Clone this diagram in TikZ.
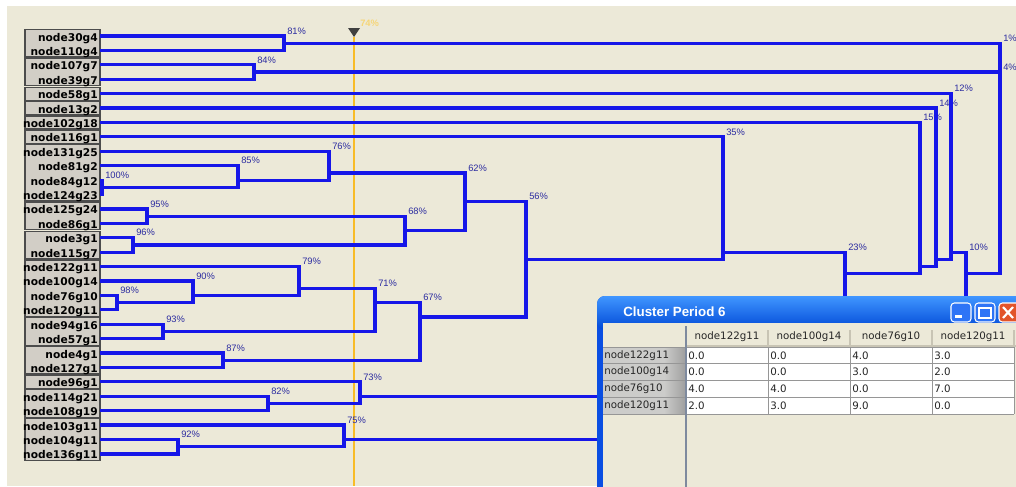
\documentclass[tikz,border=0pt]{standalone}
\usepackage{fontspec}
\setmainfont{DejaVu Sans}
\newfontfamily\pctfont{Liberation Sans}
\usetikzlibrary{calc}

\definecolor{xpbeige}{RGB}{236,233,216}
\definecolor{boxgrey}{RGB}{210,206,198}
\definecolor{treeblue}{RGB}{22,22,232}
\definecolor{pctblue}{RGB}{44,44,160}
\definecolor{cutyellow}{RGB}{248,188,40}
\definecolor{cutlabel}{RGB}{246,214,120}
\definecolor{xpframe}{RGB}{10,78,226}
\definecolor{xptop}{RGB}{64,150,255}
\definecolor{xpmid}{RGB}{0,86,236}
\definecolor{xpbot}{RGB}{0,72,214}
\definecolor{xpbtn}{RGB}{46,116,246}
\definecolor{xpclose}{RGB}{226,84,42}
\definecolor{gridgrey}{RGB}{150,150,150}
\definecolor{rowhead}{RGB}{204,204,202}
\definecolor{hdrline}{RGB}{200,196,180}
\definecolor{sepline}{RGB}{126,138,158}

\tikzset{
  leaf/.style={anchor=east,inner xsep=1.5pt,inner ysep=0pt,text height=7.5pt,text depth=0pt,
    font=\bfseries\fontsize{8}{9}\selectfont},
  grp/.style={draw=black!70,line width=0.9pt,fill=boxgrey},
  link/.style={treeblue,line width=2.4pt},
  pct/.style={anchor=west,inner sep=0pt,text=pctblue,font=\pctfont\fontsize{7}{8}\selectfont},
  cutlbl/.style={anchor=west,inner sep=0pt,text=cutlabel,font=\pctfont\bfseries\fontsize{7}{8}\selectfont},
  cell/.style={anchor=west,inner sep=0pt,text=black!85,font=\fontsize{7.7}{9}\selectfont},
  xpbutton/.style={draw=white,line width=0.8pt,rounded corners=2.5pt},
}

% y of a leaf row, rows are 14.41 apart
\newcommand{\rowy}[1]{36+14.41*#1}

% \joinup{name}{upper}{lower}{x}{mean row}{level}
\newcommand{\joinup}[6]{%
  \coordinate (#1) at (#4,{\rowy{#5}});
  \draw[link] (#2) -| (#1 |- #3) -- (#3);
  \node[pct] (#1l) at ($(#1 |- #2)+(3,-5)$) {#6};
}

\begin{document}
\begin{tikzpicture}[x=0.75pt,y=-0.75pt]
  \useasboundingbox (0,0) rectangle (1016,486);
  \fill[white] (0,0) rectangle (1016,486);
  \fill[xpbeige] (7,6) rectangle (1016,486);

  % cut level
  \coordinate (cut) at (354,37);
  \coordinate (cutend) at (354,486);
  \draw[cutyellow,line width=0.8pt] (cut) -- (cutend);
  \fill[black!75] (348,28) -- (360,28) -- (cut) -- cycle;
  \node[cutlbl] (cutval) at (360,23) {74\%};

  % boxes round the leaf groups
  \foreach \a/\b in {0/1,2/3,4/4,5/5,6/6,7/7,8/11,12/13,14/15,16/19,20/21,22/23,24/24,25/26,27/29}
    \draw[grp] (25,{\rowy{\a}-6.5}) rectangle (100,{\rowy{\b}+6.5});

  \foreach \nm [count=\i from 0] in {node30g4,node110g4,node107g7,node39g7,node58g1,node13g2,
      node102g18,node116g1,node131g25,node81g2,node84g12,node124g23,node125g24,node86g1,
      node3g1,node115g7,node122g11,node100g14,node76g10,node120g11,node94g16,node57g1,
      node4g1,node127g1,node96g1,node114g21,node108g19,node103g11,node104g11,node136g11}
    \node[leaf] (\nm) at (100,{\rowy{\i}}) {\nm};

  % merges
  \joinup{m81}{node30g4.east}{node110g4.east}{284}{0.5}{81\%}
  \joinup{m84}{node107g7.east}{node39g7.east}{254}{2.5}{84\%}
  \joinup{m100}{node84g12.east}{node124g23.east}{102}{10.5}{100\%}
  \joinup{m85}{node81g2.east}{m100}{238}{10}{85\%}
  \joinup{m76}{node131g25.east}{m85}{329}{9.5}{76\%}
  \joinup{m95}{node125g24.east}{node86g1.east}{147}{12.5}{95\%}
  \joinup{m96}{node3g1.east}{node115g7.east}{133}{14.5}{96\%}
  \joinup{m68}{m95}{m96}{405}{13.5}{68\%}
  \joinup{m62}{m76}{m68}{465}{11.5}{62\%}
  \joinup{m98}{node76g10.east}{node120g11.east}{117}{18.5}{98\%}
  \joinup{m90}{node100g14.east}{m98}{193}{18}{90\%}
  \joinup{m79}{node122g11.east}{m90}{299}{17.5}{79\%}
  \joinup{m93}{node94g16.east}{node57g1.east}{163}{20.5}{93\%}
  \joinup{m71}{m79}{m93}{375}{18.5}{71\%}
  \joinup{m87}{node4g1.east}{node127g1.east}{223}{22.5}{87\%}
  \joinup{m67}{m71}{m87}{420}{19.5}{67\%}
  \joinup{m56}{m62}{m67}{526}{15.5}{56\%}
  \joinup{m35}{node116g1.east}{m56}{723}{15}{35\%}
  \joinup{m82}{node114g21.east}{node108g19.east}{268}{25.5}{82\%}
  \joinup{m73}{node96g1.east}{m82}{360}{25}{73\%}
  \joinup{m92}{node104g11.east}{node136g11.east}{178}{28.5}{92\%}
  \joinup{m75}{node103g11.east}{m92}{344}{28}{75\%}
  \joinup{m23}{m35}{m73}{845}{16.5}{23\%}
  \joinup{m15}{node102g18.east}{m23}{920}{16}{15\%}
  \joinup{m14}{node13g2.east}{m15}{936}{15.5}{14\%}
  \joinup{m12}{node58g1.east}{m14}{951}{15}{12\%}
  \joinup{m10}{m12}{m75}{966}{16.5}{10\%}
  \joinup{m4}{m84}{m10}{1000}{15.5}{4\%}
  \joinup{m1}{m81}{m4}{1000}{14.5}{1\%}

  % cluster window
  \fill[xpframe,rounded corners=6pt] (597,296) rectangle (1040,520);
  \shade[top color=xptop,middle color=xpmid,bottom color=xpbot,rounded corners=6pt]
    (597,296) rectangle (1040,330);
  \fill[xpbeige] (603,323) rectangle (1040,520);
  \node[anchor=west,inner sep=0pt,text=white,font=\pctfont\bfseries\fontsize{10}{12}\selectfont]
    (wtitle) at (623,312) {Cluster Period 6};
  \draw[xpbutton,fill=xpbtn] (951,303) rectangle (971,322);
  \fill[white] (955,315) rectangle (962,318);
  \draw[xpbutton,fill=xpbtn] (975,303) rectangle (995,322);
  \draw[white,line width=1pt] (979,308) rectangle (991,318);
  \draw[white,line width=1.2pt] (979,308) -- (991,308);
  \draw[xpbutton,fill=xpclose] (999,303) rectangle (1019,322);
  \draw[white,line width=1.6pt] (1003,307) -- (1013,318) (1013,307) -- (1003,318);

  % table
  \fill[white] (686,347) rectangle (1014,414);
  \fill[rowhead] (603,347) rectangle (686,414);
  \shade[left color=rowhead,right color=black!38] (664,347) rectangle (686,414);
  \foreach \j in {1,...,4}
    \draw[hdrline,line width=0.8pt] ({686+82*\j},330) -- ({686+82*\j},345);
  \draw[hdrline,line width=1.4pt] (686,346) -- (1016,346);
  \foreach \i in {0,...,4}
    \draw[gridgrey,line width=0.6pt] (603,{347+16.75*\i}) -- (1014,{347+16.75*\i});
  \foreach \j in {1,...,4}
    \draw[gridgrey,line width=0.6pt] ({686+82*\j},347) -- ({686+82*\j},414);
  \draw[sepline,line width=1.4pt] (686,326) -- (686,490);

  \foreach \h [count=\j] in {node122g11,node100g14,node76g10,node120g11}
    \node[cell,anchor=center] (h\j) at ({686+82*(\j-0.5)},337) {\h};
  \foreach \rh/\va/\vb/\vc/\vd [count=\i] in {node122g11/0.0/0.0/4.0/3.0,
      node100g14/0.0/0.0/3.0/2.0,node76g10/4.0/4.0/0.0/7.0,node120g11/2.0/3.0/9.0/0.0}{
    \node[cell] (r\i) at (604,{347+16.75*(\i-0.5)}) {\rh};
    \foreach \v [count=\j] in {\va,\vb,\vc,\vd}
      \node[cell] (v\i\j) at ({688+82*(\j-1)},{347+16.75*(\i-0.5)}) {\v};
  }
\end{tikzpicture}
\end{document}
